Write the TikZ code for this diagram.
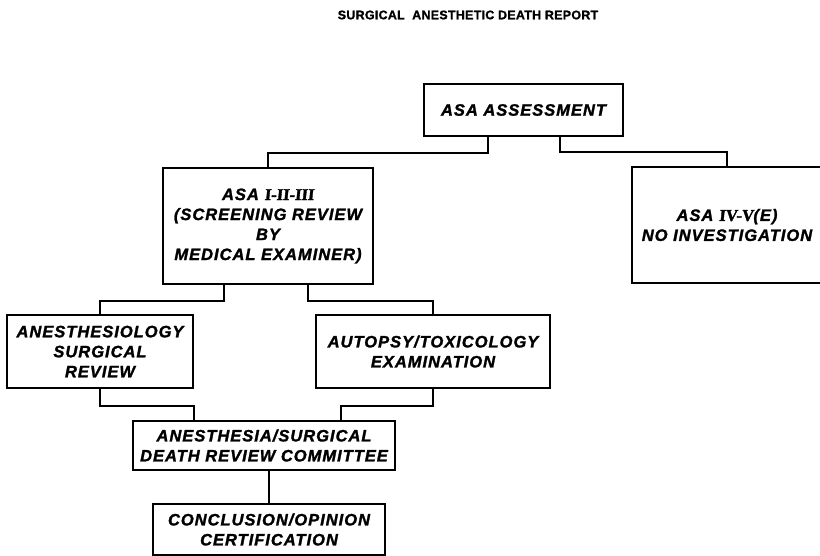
\documentclass[tikz,border=0pt]{standalone}
\usepackage{fontspec}
\setmainfont{Liberation Sans}
\newfontfamily\boxfont{Liberation Sans}[LetterSpace=6, FakeBold=1.5]
\newfontfamily\titlefont{Liberation Sans}[LetterSpace=2, FakeBold=1.2]
\newfontfamily\numfont{Liberation Serif}[FakeBold=2, FakeSlant=0.1]
\begin{document}
\begin{tikzpicture}[x=1pt,y=-1pt,
  box/.style={draw, line width=1.9pt, inner sep=0pt, align=center,
    font=\boxfont\bfseries\itshape\fontsize{16.5}{20}\selectfont},
  conn/.style={line width=1.9pt},
  ttl/.style={font=\titlefont\bfseries\fontsize{12.5}{15}\selectfont, inner sep=0pt}]
\useasboundingbox (0,0) rectangle (820,556);

\node[ttl] (title) at (468,15) {SURGICAL\ \ ANESTHETIC DEATH REPORT};

\node[box, minimum width=199pt, minimum height=52pt] (A) at (523.5,110) {ASA ASSESSMENT};
\node[box, minimum width=210pt, minimum height=116pt] (B) at (268,226)
  {ASA {\numfont\bfseries\upshape I-II-III}\\(SCREENING REVIEW\\BY\\MEDICAL EXAMINER)};
\node[box, minimum width=190pt, minimum height=116pt] (C) at (727,225)
  {ASA {\numfont\bfseries\upshape IV-V}(E)\\NO INVESTIGATION};
\node[box, minimum width=186pt, minimum height=73pt] (D) at (100,351.5)
  {ANESTHESIOLOGY\\SURGICAL\\REVIEW};
\node[box, minimum width=234pt, minimum height=73pt] (E) at (433,351.5)
  {AUTOPSY/TOXICOLOGY\\EXAMINATION};
\node[box, minimum width=262pt, minimum height=49pt] (F) at (264,445.5)
  {ANESTHESIA/SURGICAL\\DEATH REVIEW COMMITTEE};
\node[box, minimum width=232pt, minimum height=51pt] (G) at (269,529.5)
  {CONCLUSION/OPINION\\CERTIFICATION};

\draw[conn] ([xshift=-35.5pt]A.south) -- ++(0,16) -| (B.north);
\draw[conn] ([xshift=36.5pt]A.south) -- ++(0,15) -| (C.north);
\draw[conn] ([xshift=-44pt]B.south) -- ++(0,16) -| (D.north);
\draw[conn] ([xshift=40pt]B.south) -- ++(0,16) -| (E.north);
\draw[conn] (D.south) -- ++(0,17) -| ([xshift=-70pt]F.north);
\draw[conn] (E.south) -- ++(0,17) -| ([xshift=77pt]F.north);
\draw[conn] (G.north |- F.south) -- (G.north);
\end{tikzpicture}
\end{document}
